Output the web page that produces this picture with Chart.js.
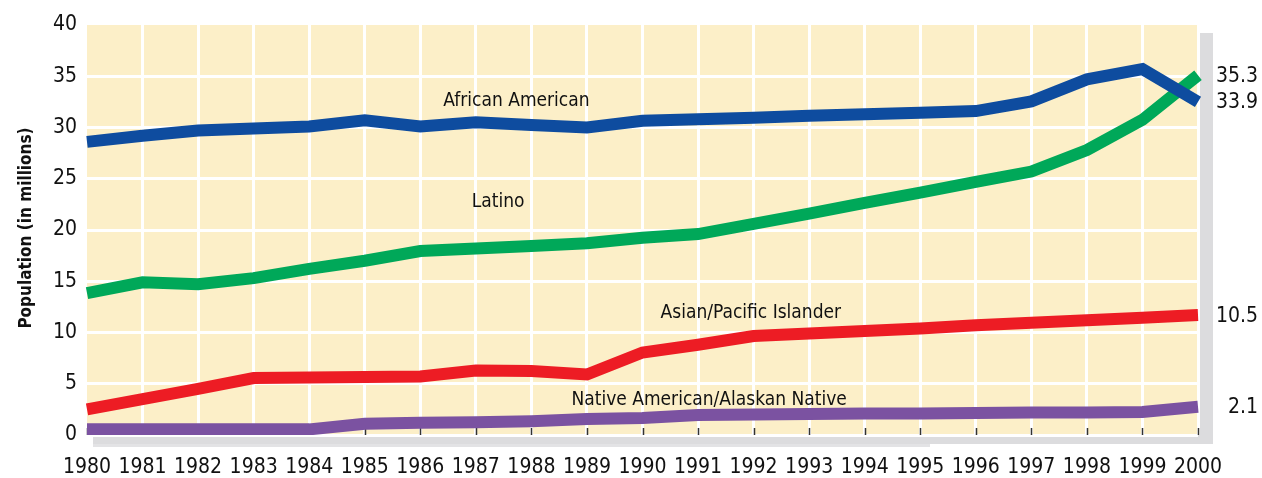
<!DOCTYPE html>
<html>
<head>
<meta charset="utf-8">
<script src="https://cdn.jsdelivr.net/npm/chart.js@4/dist/chart.umd.min.js"></script>
<style>
  html, body { margin: 0; padding: 0; background: #ffffff; }
  #wrap { width: 1262px; height: 478px; position: relative; }
</style>
</head>
<body>
<div id="wrap"><canvas id="c" width="1262" height="478"></canvas></div>
<script>
// ---- data ----
const years = ['1980','1981','1982','1983','1984','1985','1986','1987','1988','1989','1990',
               '1991','1992','1993','1994','1995','1996','1997','1998','1999','2000'];
const africanAmerican = [28.6, 29.2, 29.7, 29.9, 30.1, 30.7, 30.1, 30.5, 30.25, 30.0, 30.65,
                         30.8, 30.95, 31.15, 31.3, 31.45, 31.6, 32.55, 34.7, 35.7, 32.5];
const latino = [13.85, 14.9, 14.7, 15.3, 16.2, 17.0, 17.95, 18.2, 18.45, 18.7, 19.25,
                19.6, 20.6, 21.6, 22.65, 23.65, 24.7, 25.7, 27.8, 30.75, 35.1];
const asianPacific = [2.5, 3.5, 4.5, 5.55, 5.6, 5.65, 5.7, 6.3, 6.25, 5.9, 8.05,
                      8.8, 9.65, 9.9, 10.15, 10.4, 10.7, 10.95, 11.2, 11.45, 11.7];
const nativeAmerican = [0.55, 0.55, 0.55, 0.55, 0.55, 1.1, 1.2, 1.25, 1.35, 1.55, 1.65,
                        1.95, 2.0, 2.05, 2.1, 2.1, 2.15, 2.2, 2.2, 2.25, 2.75];
const seriesNames = ['African American', 'Latino', 'Asian/Pacific Islander', 'Native American/Alaskan Native'];
const endLabels = ['33.9', '35.3', '10.5', '2.1'];
const yTicks = [0, 5, 10, 15, 20, 25, 30, 35, 40];
const yTitle = 'Population (in millions)';

// ---- styles ----
const FONT = "'Liberation Sans Narrow', 'DejaVu Sans Condensed', 'Arial Narrow', sans-serif";
const colors = ['#0E4C9F', '#00A859', '#ED1C24', '#7B52A1'];
const seriesData = [africanAmerican, latino, asianPacific, nativeAmerican];
// annotation positions in data coordinates (x = year index, y = value)
const nameLabelPos = [
  {x: 7.73, y: 32.6}, {x: 7.4, y: 22.7}, {x: 11.95, y: 11.9}, {x: 11.2, y: 3.45}
];

const bgPlugin = {
  id: 'bgPlugin',
  beforeDraw(chart) {
    const {ctx, chartArea: a} = chart;
    ctx.save();
    ctx.fillStyle = '#DCDCDE';
    // right shadow
    ctx.fillRect(a.right, a.top + 8, 15, a.bottom - a.top + 1);
    // bottom shadow
    ctx.fillRect(a.left + 6, a.bottom, a.right + 15 - (a.left + 6), 9);
    ctx.fillStyle = 'rgba(220,220,222,0.8)';
    ctx.fillRect(a.left + 6, a.bottom + 9, 837, 3);
    // plot background
    ctx.fillStyle = '#FCEFC8';
    ctx.fillRect(a.left, a.top, a.right - a.left, a.bottom - a.top + 1);
    ctx.restore();
  },
  beforeDatasetsDraw(chart) {
    const {ctx, chartArea: a, scales} = chart;
    ctx.save();
    ctx.strokeStyle = '#333333';
    ctx.lineWidth = 1.5;
    years.forEach((y, i) => {
      const px = Math.round(scales.x.getPixelForValue(i)) + 0.5;
      ctx.beginPath();
      ctx.moveTo(px, a.bottom - 7);
      ctx.lineTo(px, a.bottom);
      ctx.stroke();
    });
    ctx.restore();
  },
  afterDatasetsDraw(chart) {
    const {ctx, chartArea: a, scales} = chart;
    ctx.save();
    ctx.fillStyle = '#111111';
    ctx.font = '19px ' + FONT;
    ctx.textBaseline = 'middle';
    // series names
    ctx.textAlign = 'center';
    seriesNames.forEach((n, i) => {
      const p = nameLabelPos[i];
      ctx.fillText(n, scales.x.getPixelForValue(p.x), scales.y.getPixelForValue(p.y));
    });
    // end value labels
    ctx.font = '21px ' + FONT;
    ctx.textAlign = 'right';
    endLabels.forEach((t, i) => {
      const d = seriesData[i];
      ctx.fillText(t, a.right + 60, scales.y.getPixelForValue(d[d.length - 1]) + 1);
    });
    // y title
    ctx.font = 'bold 17px ' + FONT;
    ctx.textAlign = 'center';
    ctx.translate(27, (a.top + a.bottom) / 2 - 2);
    ctx.rotate(-Math.PI / 2);
    ctx.fillText(yTitle, 0, 0);
    ctx.restore();
  }
};

new Chart(document.getElementById('c'), {
  type: 'line',
  data: {
    labels: years,
    datasets: seriesData.map((d, i) => ({
      label: seriesNames[i],
      data: d,
      borderColor: colors[i],
      backgroundColor: colors[i],
      borderWidth: 12,
      pointRadius: 0,
      tension: 0,
      borderJoinStyle: 'miter',
      borderCapStyle: 'butt',
      fill: false
    }))
  },
  options: {
    responsive: false,
    animation: false,
    events: [],
    layout: { padding: { top: 25, right: 64, left: 0, bottom: 0 } },
    plugins: { legend: { display: false }, tooltip: { enabled: false } },
    scales: {
      x: {
        type: 'category',
        offset: false,
        grid: {
          color: (c) => (c.index === 0 ? 'rgba(0,0,0,0)' : '#ffffff'),
          lineWidth: 3,
          drawTicks: false
        },
        border: { display: false },
        ticks: {
          color: '#111111',
          font: { family: FONT, size: 21 },
          padding: 20,
          maxRotation: 0,
          autoSkip: false
        },
        afterFit(scale) { scale.height = 43; }
      },
      y: {
        min: 0,
        max: 40,
        afterBuildTicks(scale) { scale.ticks = yTicks.map(v => ({value: v})); },
        grid: {
          color: (c) => (c.tick && (c.tick.value === 40) ? 'rgba(0,0,0,0)' : '#ffffff'),
          lineWidth: 3,
          drawTicks: false
        },
        border: { display: false },
        ticks: {
          color: '#111111',
          font: { family: FONT, size: 21 },
          padding: 10
        },
        afterFit(scale) { scale.width = 87; }
      }
    }
  },
  plugins: [bgPlugin]
});
</script>
</body>
</html>
